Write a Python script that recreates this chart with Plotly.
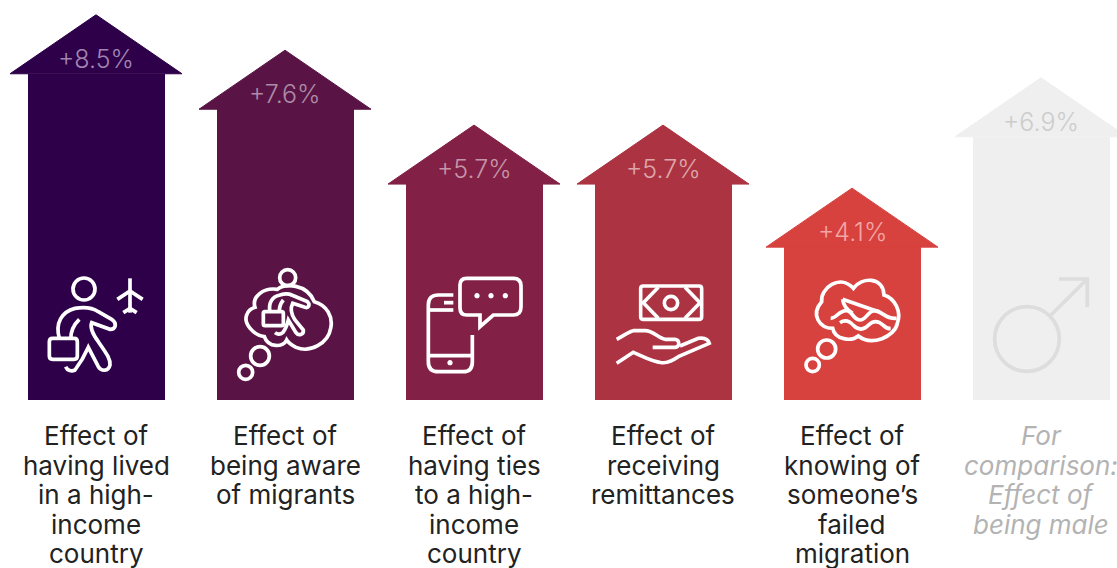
import re

import plotly.graph_objects as go

# Percentage-point effects on the intention to migrate
effects = [8.5, 7.6, 5.7, 5.7, 4.1, 6.9]
categories = [
    "Effect of<br>having lived<br>in a high-<br>income<br>country",
    "Effect of<br>being aware<br>of migrants",
    "Effect of<br>having ties<br>to a high-<br>income<br>country",
    "Effect of<br>receiving<br>remittances",
    "Effect of<br>knowing of<br>someone’s<br>failed<br>migration",
    "For<br>comparison:<br>Effect of<br>being male",
]
arrow_colors = ["#2D0049", "#591445", "#822145", "#AC3442", "#D7413E", "#EFEFEF"]
value_colors = ["#A085B2", "#AD8CA6", "#C695AA", "#DDA6AB", "#F2A7A5", "#CCCCCC"]
text_colors = ["#222222"] * 5 + ["#B3B3B3"]
icon_colors = ["#FFFFFF"] * 5 + ["#DDDDDD"]

WIDTH, HEIGHT = 1117, 568
PX_X0, PX_STEP = 96.0, 189.0     # first arrow centre and spacing
PX_BASE, PX_PER_UNIT = 400.0, 39.4
AXIS_BASE = 0.22                 # value sitting on the baseline
HEAD_PX = 59.0
BODY_PX, HEAD_W_PX = 137.0, 172.0

x_range = [-PX_X0 / PX_STEP, (WIDTH - PX_X0) / PX_STEP]
y_range = [
    AXIS_BASE - (HEIGHT - PX_BASE) / PX_PER_UNIT,
    AXIS_BASE + PX_BASE / PX_PER_UNIT,
]
head_h = HEAD_PX / PX_PER_UNIT
head_half = HEAD_W_PX / 2 / PX_STEP


def to_paper(path, ox, oy):
    """Convert a path in third-of-a-pixel icon units to paper coordinates."""
    def repl(m):
        px = ox + float(m.group(1)) / 3
        py = oy + float(m.group(2)) / 3
        return f"{px / WIDTH:.5f} {1 - py / HEIGHT:.5f}"
    return re.sub(r"(-?[\d.]+)[ ,](-?[\d.]+)", repl, path)


def circle(cx, cy, r):
    k = 0.5523 * r
    return (
        f"M{cx + r} {cy} C{cx + r} {cy + k} {cx + k} {cy + r} {cx} {cy + r} "
        f"C{cx - k} {cy + r} {cx - r} {cy + k} {cx - r} {cy} "
        f"C{cx - r} {cy - k} {cx - k} {cy - r} {cx} {cy - r} "
        f"C{cx + k} {cy - r} {cx + r} {cy - k} {cx + r} {cy} Z"
    )


def round_rect(x0, y0, x1, y1, r):
    return (
        f"M{x0 + r} {y0} L{x1 - r} {y0} Q{x1} {y0} {x1} {y0 + r} "
        f"L{x1} {y1 - r} Q{x1} {y1} {x1 - r} {y1} L{x0 + r} {y1} "
        f"Q{x0} {y1} {x0} {y1 - r} L{x0} {y0 + r} Q{x0} {y0} {x0 + r} {y0} Z"
    )


# Line icons: (origin x, origin y, stroke width, outlined paths, filled paths)
icons = [
    (30, 260, 3.7, [
        circle(162, 87, 33),
        "M88 235 C75 190 95 155 135 145 C165 140 190 145 205 155 L245 178 "
        "C262 190 258 208 240 208 L185 188 C178 205 190 225 205 245 "
        "C225 275 242 295 240 315 C235 335 215 335 205 320 L175 262 "
        "C165 285 150 310 135 330 C125 335 112 332 107 320",
        "M148 178 C130 195 122 215 122 238",
        round_rect(58, 235, 142, 298, 10),
        "M300 55 L300 158",
        "M262 118 L300 93 L338 118",
        "M280 158 L300 145 L320 158",
    ], []),
    (220, 260, 3.7, [
        circle(203, 53, 24),
        "M105 142 C95 110 130 82 172 88 C195 70 260 70 283 125 "
        "C320 135 340 170 332 205 C325 250 270 280 228 262 "
        "C215 255 205 248 200 240 C190 262 145 265 133 230 "
        "C100 225 70 190 80 165 C85 150 95 145 105 142 Z",
        "M150 155 C145 130 155 110 180 105 C195 100 205 100 215 105 L262 125 "
        "C272 135 265 145 255 142 L218 130 C208 150 215 165 225 180 "
        "L250 210 C252 225 235 228 228 218 L205 180 C200 200 195 210 188 218 "
        "C180 225 170 222 165 218",
        "M190 120 C182 130 178 140 178 153",
        round_rect(130, 155, 190, 197, 5),
        circle(120, 288, 28),
        circle(77, 337, 21),
    ], []),
    (410, 260, 3.7, [
        "M130 105 L85 105 Q55 105 55 135 L55 305 Q55 335 85 335 "
        "L160 335 Q187 335 187 305 L187 225",
        "M55 150 L130 150",
        "M55 287 L187 287",
        "M102 128 L130 128",
        "M170 55 L310 55 Q333 55 333 78 L333 140 Q333 165 310 165 "
        "L250 165 L210 200 L210 165 L170 165 Q150 165 150 143 "
        "L150 75 Q150 55 170 55 Z",
    ], [
        circle(120, 308, 8),
        circle(201, 107, 8),
        circle(243, 107, 8),
        circle(286, 107, 8),
    ]),
    (600, 260, 3.6, [
        round_rect(122, 78, 305, 178, 8),
        circle(213, 129, 20),
        "M175 82 L130 128 L175 175",
        "M255 82 L300 128 L255 175",
        "M50 238 C70 228 85 215 100 212 L135 212 C160 212 175 235 195 238 "
        "L225 238 C240 240 240 262 225 262 L158 262",
        "M240 258 L295 235 C315 232 325 240 328 250 L235 290 "
        "C220 300 205 310 185 308 C155 305 130 290 100 277 L50 310",
    ], []),
    (790, 260, 3.7, [
        "M95 125 C90 85 150 40 190 85 C215 50 280 50 282 105 "
        "C315 115 335 155 322 190 C315 230 245 260 205 228 "
        "C185 245 135 240 128 205 C90 205 60 165 95 125 Z",
        "M158 118 L268 156",
        "M158 118 C160 135 170 150 188 160",
        "M122 175 C140 175 148 150 170 152 C188 154 190 180 210 180 "
        "C230 180 232 152 255 152 C278 154 285 178 320 175",
        "M150 188 C165 178 178 182 190 196 C205 212 222 210 235 196 "
        "C250 180 265 182 280 196 C288 204 295 206 302 206",
        circle(110, 267, 27),
        circle(68, 315, 20),
    ], []),
    (980, 260, 3.7, [
        circle(141, 237, 97),
        "M213 165 L322 57",
        "M237 57 L322 57 L322 142",
    ], []),
]

fig = go.Figure()

positions = list(range(len(effects)))

# Arrow shafts rise from the baseline to each effect
fig.add_trace(go.Bar(
    x=positions,
    y=[v - AXIS_BASE for v in effects],
    base=AXIS_BASE,
    width=BODY_PX / PX_STEP,
    marker=dict(color=arrow_colors, line=dict(width=0)),
    hoverinfo="skip",
    showlegend=False,
))

# Arrow heads sit on top of the shafts
for i, v in enumerate(effects):
    fig.add_trace(go.Scatter(
        x=[i - head_half, i, i + head_half, i - head_half],
        y=[v, v + head_h, v, v],
        mode="lines",
        fill="toself",
        fillcolor=arrow_colors[i],
        line=dict(color=arrow_colors[i], width=1),
        hoverinfo="skip",
        showlegend=False,
    ))

annotations = []
for i, v in enumerate(effects):
    annotations.append(dict(
        x=i, y=v, xref="x", yref="y", yshift=15,
        text=f"+{v:.1f}%", showarrow=False,
        xanchor="center", yanchor="middle",
        font=dict(family="Inter", size=25, weight=300, color=value_colors[i]),
    ))
    # Category captions are set line by line for tight leading
    for j, line in enumerate(categories[i].split("<br>")):
        style = "<i>%s</i>" % line if i == 5 else line
        annotations.append(dict(
            x=i, y=1 - (435.5 + 29.5 * j) / HEIGHT, xref="x", yref="paper",
            text=style, showarrow=False,
            xanchor="center", yanchor="middle",
            font=dict(family="Inter", size=26, color=text_colors[i]),
        ))

shapes = []
for i, (ox, oy, sw, outlined, filled) in enumerate(icons):
    for p in outlined:
        shapes.append(dict(
            type="path", xref="paper", yref="paper", path=to_paper(p, ox, oy),
            line=dict(color=icon_colors[i], width=sw),
            fillcolor="rgba(0,0,0,0)", layer="above",
        ))
    for p in filled:
        shapes.append(dict(
            type="path", xref="paper", yref="paper", path=to_paper(p, ox, oy),
            line=dict(width=0), fillcolor=icon_colors[i], layer="above",
        ))

fig.update_layout(
    width=WIDTH,
    height=HEIGHT,
    margin=dict(l=0, r=0, t=0, b=0),
    paper_bgcolor="white",
    plot_bgcolor="white",
    xaxis=dict(range=x_range, visible=False, fixedrange=True),
    yaxis=dict(range=y_range, visible=False, fixedrange=True),
    annotations=annotations,
    shapes=shapes,
    bargap=0,
)

fig.write_html("out.html", config={"displayModeBar": False})
